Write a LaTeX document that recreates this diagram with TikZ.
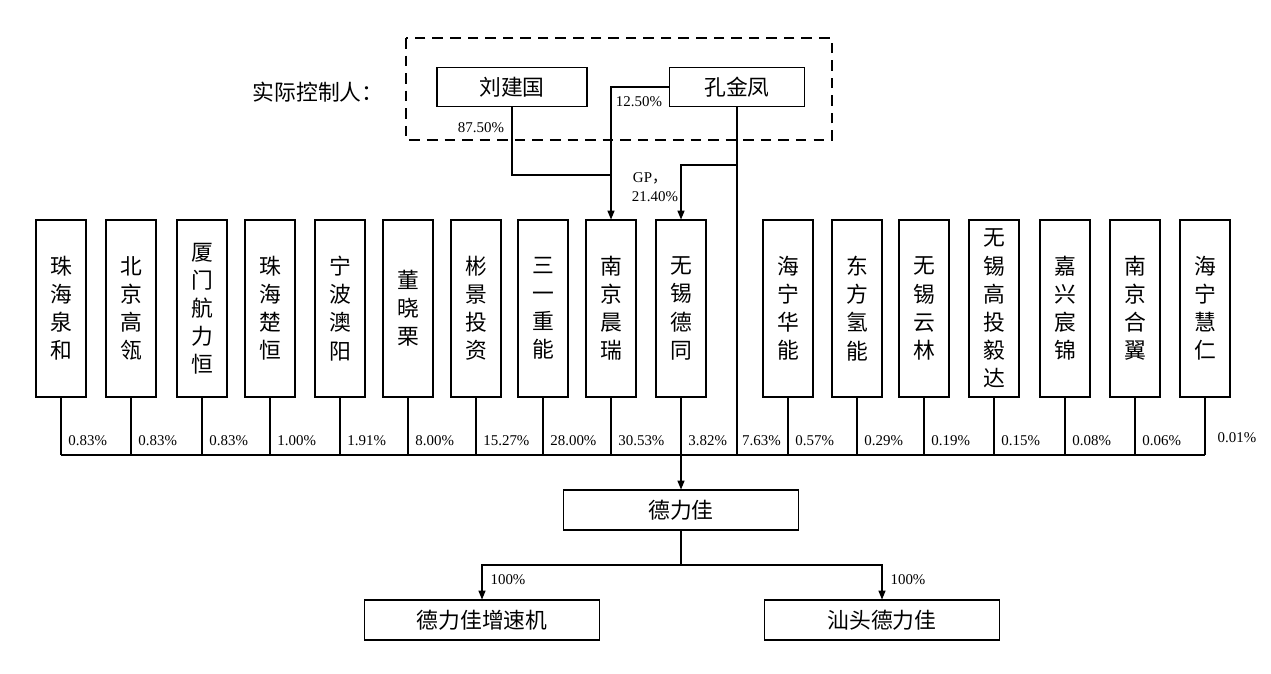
\documentclass[tikz,border=0pt]{standalone}
\usepackage{fontspec}
\setmainfont{Liberation Serif}
\newfontfamily\cjk{Noto Sans CJK SC}
\usetikzlibrary{arrows.meta,positioning}

\tikzset{
  holder/.style={draw, line width=0.6pt, minimum width=1cm, minimum height=3.54cm,
    inner sep=0pt, align=center, font=\cjk\fontsize{12.4}{16}\selectfont},
  entity/.style={draw, line width=0.6pt, minimum width=4.7cm, minimum height=0.8cm,
    inner sep=0pt, font=\cjk\fontsize{12.4}{14}\selectfont},
  pct/.style={font=\fontsize{8.5}{10}\selectfont, inner sep=1pt},
  link/.style={line width=0.6pt},
  arr/.style={link, -{Triangle[length=5pt,width=4pt]}},
}

\begin{document}
\begin{tikzpicture}[x=0.02cm, y=-0.02cm]
  \useasboundingbox (0,0) rectangle (1271,673);
  % actual controllers
  \draw[line width=0.9pt, dash pattern=on 6pt off 4pt] (406,38) rectangle (832,140);
  \node[font=\cjk\fontsize{12.4}{14}\selectfont] (ctrl) at (318,92) {实际控制人：};
  \node[entity, minimum width=3cm, minimum height=0.78cm] (liu) at (512,87) {刘建国};
  \node[entity, minimum width=2.7cm, minimum height=0.78cm] (kong) at (737,87) {孔金凤};

  % shareholders
  \foreach \name/\x/\txt in {sh1/61/珠\\海\\泉\\和, sh2/131/北\\京\\高\\瓴,
      sh3/202/厦\\门\\航\\力\\恒, sh4/270/珠\\海\\楚\\恒, sh5/340/宁\\波\\澳\\阳,
      sh6/408/董\\晓\\栗, sh7/476/彬\\景\\投\\资, sh8/543/三\\一\\重\\能,
      sh9/611/南\\京\\晨\\瑞, sh10/681/无\\锡\\德\\同, sh11/788/海\\宁\\华\\能,
      sh12/857/东\\方\\氢\\能, sh13/924/无\\锡\\云\\林, sh14/994/无\\锡\\高\\投\\毅\\达,
      sh15/1065/嘉\\兴\\宸\\锦, sh16/1135/南\\京\\合\\翼, sh17/1205/海\\宁\\慧\\仁}
    \node[holder] (\name) at (\x,308.5) {\txt};

  \coordinate (bus) at (0,455);
  \coordinate (jn) at (611,175);
  \coordinate (kb) at (737,165);

  \draw[link] (liu.south) |- (jn);
  \draw[arr] (kong.west) -| (sh9.north);
  \draw[link] (kong.south) -- (kong.south |- bus);
  \draw[arr] (kb) -| (sh10.north);
  \node[pct] at (481,128) {87.50\%};
  \node[pct] at (639,102) {12.50\%};
  \node[pct] at (650,178) {GP{\cjk ，}};
  \node[pct] at (655,197) {21.40\%};

  \foreach \i in {1,...,17}
    \draw[link] (sh\i.south) -- (sh\i.south |- bus);
  \draw[link] (sh1.south |- bus) -- (sh17.south |- bus);

  \foreach \i/\p in {1/0.83, 2/0.83, 3/0.83, 4/1.00, 5/1.91, 6/8.00, 7/15.27,
      8/28.00, 9/30.53, 10/3.82, 11/0.57, 12/0.29, 13/0.19, 14/0.15,
      15/0.08, 16/0.06}
    \node[pct, anchor=west] at ([xshift=3] sh\i.south |- 0,441) {\p\%};
  \node[pct, anchor=west] at ([xshift=6] sh17.south |- 0,438) {0.01\%};
  \node[pct, anchor=west] at (740,441) {7.63\%};

  % company and subsidiaries
  \node[entity] (dlj) at (681,510) {德力佳};
  \node[entity] (sub1) at (482,620) {德力佳增速机};
  \node[entity] (sub2) at (882,620) {汕头德力佳};
  \coordinate (split) at (681,565);

  \draw[arr] (dlj.north |- bus) -- (dlj.north);
  \draw[link] (dlj.south) -- (split);
  \draw[arr] (split) -| (sub1.north);
  \draw[arr] (split) -| (sub2.north);
  \node[pct] at (508,580) {100\%};
  \node[pct] at (908,580) {100\%};
\end{tikzpicture}
\end{document}
